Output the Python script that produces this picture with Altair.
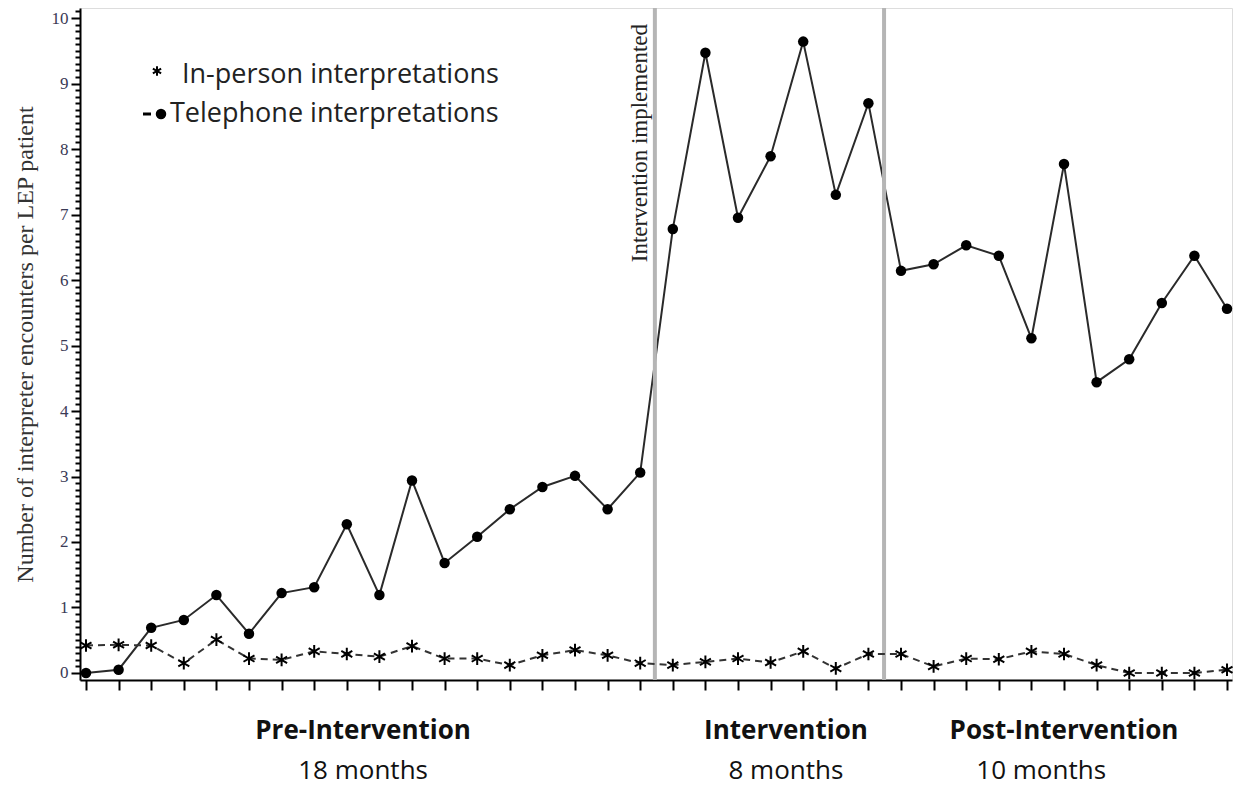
import altair as alt
import pandas as pd

months = list(range(1, 37))
telephone = [0.0, 0.05, 0.69, 0.81, 1.19, 0.60, 1.22, 1.31, 2.27, 1.19, 2.94, 1.68,
             2.08, 2.50, 2.84, 3.01, 2.50, 3.06, 6.78, 9.47, 6.95, 7.89, 9.64, 7.30,
             8.70, 6.14, 6.24, 6.53, 6.37, 5.11, 7.77, 4.44, 4.79, 5.65, 6.37, 5.56]
inperson = [0.42, 0.43, 0.42, 0.15, 0.51, 0.22, 0.20, 0.33, 0.29, 0.25, 0.41, 0.22,
            0.22, 0.12, 0.27, 0.35, 0.27, 0.15, 0.12, 0.17, 0.22, 0.16, 0.33, 0.07,
            0.29, 0.29, 0.10, 0.22, 0.21, 0.33, 0.29, 0.12, 0.00, 0.00, 0.00, 0.05]
phase_breaks = [18.45, 25.48]
y_ticks = [round(i * 0.1, 1) for i in range(0, 102)]
phase_names = ["Pre-Intervention", "Intervention", "Post-Intervention"]
phase_x = [9.5, 22.47, 31.0]
phase_lengths = ["18 months", "8 months", "10 months"]
length_x = [9.5, 22.47, 30.3]

W, H = 1152, 672
XDOM = [0.816, 36.153]
YDOM = [-0.107, 10.153]

df = pd.DataFrame({"month": months, "telephone": telephone, "inperson": inperson})
xs = alt.Scale(domain=XDOM, nice=False, zero=False)
ys = alt.Scale(domain=YDOM, nice=False, zero=False)

xaxis = alt.Axis(values=months, labels=False, title=None, tickSize=10, tickWidth=2,
                 tickColor="black", domainColor="black", domainWidth=2, grid=False)
is_major = "abs(datum.value - round(datum.value)) < 0.001"
yaxis = alt.Axis(values=y_ticks, title="Number of interpreter encounters per LEP patient",
                 titleFont="Liberation Serif", titleFontSize=24, titleFontWeight="normal",
                 titleColor="#333", labelFont="Liberation Serif", labelFontSize=17,
                 labelColor="#3a3a55", labelOverlap=False,
                 labelExpr=f"{is_major} ? format(datum.value, 'd') : ''",
                 tickSize={"condition": {"test": is_major, "value": 9}, "value": 5},
                 tickWidth=2, tickColor="black",
                 domainColor="black", domainWidth=2, grid=False, titlePadding=14,
                 labelPadding=3)

X = alt.X("month:Q", scale=xs, axis=xaxis)

breaks = alt.Chart(pd.DataFrame({"b": phase_breaks})).mark_rule(
    color="#b5b5b5", strokeWidth=4).encode(x=alt.X("b:Q", scale=xs, axis=xaxis))

tel_line = alt.Chart(df).mark_line(color="#2a2a2a", strokeWidth=2).encode(
    x=X, y=alt.Y("telephone:Q", scale=ys, axis=yaxis))
tel_pts = alt.Chart(df).mark_point(shape="circle", filled=True, color="black",
                                   size=110, opacity=1).encode(
    x=X, y=alt.Y("telephone:Q", scale=ys, axis=yaxis))

star = "M0,-1L0,1M-0.87,-0.5L0.87,0.5M-0.87,0.5L0.87,-0.5"
ip_line = alt.Chart(df).mark_line(color="#333", strokeWidth=2, strokeDash=[7, 5]).encode(
    x=X, y=alt.Y("inperson:Q", scale=ys, axis=yaxis))
ip_pts = alt.Chart(df).mark_point(shape=star, filled=False, color="black",
                                  strokeWidth=2, size=160, opacity=1).encode(
    x=X, y=alt.Y("inperson:Q", scale=ys, axis=yaxis))

annot = alt.Chart(pd.DataFrame({"x": [18.0], "t": ["Intervention implemented"]})).mark_text(
    angle=270, align="right", baseline="middle", font="Liberation Serif", fontSize=23,
    color="#222").encode(x=alt.X("x:Q", scale=xs, axis=xaxis), y=alt.value(16), text="t:N")

one = pd.DataFrame({"a": [0]})
leg_star = alt.Chart(one).mark_point(shape=star, filled=False, color="black", strokeWidth=2,
                                     size=90, opacity=1).encode(
    x=alt.value(77), y=alt.value(63))
leg_t1 = alt.Chart(one).mark_text(align="left", baseline="middle", font="Open Sans", fontSize=27,
                                  color="#222").encode(
    x=alt.value(102), y=alt.value(67), text=alt.value("In-person interpretations"))
leg_dash = alt.Chart(one).mark_rule(color="black", strokeWidth=3).encode(
    x=alt.value(63), x2=alt.value(71), y=alt.value(106))
leg_dot = alt.Chart(one).mark_point(shape="circle", filled=True, color="black", size=110,
                                    opacity=1).encode(x=alt.value(81), y=alt.value(106))
leg_t2 = alt.Chart(one).mark_text(align="left", baseline="middle", font="Open Sans", fontSize=27,
                                  color="#222").encode(
    x=alt.value(90), y=alt.value(106), text=alt.value("Telephone interpretations"))

ph = alt.Chart(pd.DataFrame({"x": phase_x, "t": phase_names})).mark_text(
    font="Open Sans", fontSize=26, fontWeight="bold", color="#111", baseline="middle").encode(
    x=alt.X("x:Q", scale=xs, axis=xaxis), y=alt.value(H + 51), text="t:N")
pl = alt.Chart(pd.DataFrame({"x": length_x, "t": phase_lengths})).mark_text(
    font="Open Sans", fontSize=26, color="#111", baseline="middle").encode(
    x=alt.X("x:Q", scale=xs, axis=xaxis), y=alt.value(H + 91), text="t:N")

chart = alt.layer(
    tel_line, breaks, ip_line, ip_pts, tel_pts, annot,
    leg_star, leg_t1, leg_dash, leg_dot, leg_t2, ph, pl
).properties(
    width=W, height=H,
    autosize=alt.AutoSizeParams(type="none"),
    padding={"left": 80, "top": 8, "right": 5, "bottom": 108},
).configure_view(stroke="black", strokeWidth=2).configure(background="white")

chart.save("out.html", embed_options={"renderer": "svg", "actions": False})
